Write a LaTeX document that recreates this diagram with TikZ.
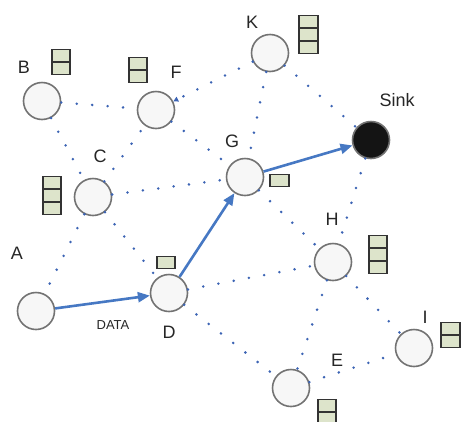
\documentclass[tikz,border=0pt]{standalone}
\usepackage{fontspec}
\setmainfont{Liberation Sans}
\usetikzlibrary{arrows.meta}
\definecolor{dotblue}{RGB}{60,100,180}
\definecolor{arrblue}{RGB}{70,120,195}
\definecolor{battfill}{RGB}{221,228,203}
\definecolor{ringgray}{RGB}{115,115,115}
\tikzset{
 sensor/.style={circle,draw=ringgray,line width=1.6pt,fill=black!3,minimum size=37pt,inner sep=0pt},
 sinknode/.style={sensor,fill=black!92},
 lbl/.style={font=\fontsize{18}{18}\selectfont,inner sep=0pt,text=black!85},
 link/.style={dotblue,line width=2.8pt,line cap=round,dash pattern=on 0pt off 15.5pt},
 flow/.style={arrblue,line width=2.6pt,-{Triangle[length=12pt,width=10pt]}},
 cell/.style={draw=black!80,fill=battfill,line width=1.7pt,minimum width=18.5pt,minimum height=11.8pt,inner sep=0pt},
}
\begin{document}
\begin{tikzpicture}[x=1pt,y=-1pt]
\useasboundingbox (0,0) rectangle (462,421);
% sensor nodes
\node[sensor] (A) at (36,311) {};
\node[sensor] (B) at (42,101) {};
\node[sensor] (C) at (93,197) {};
\node[sensor] (D) at (169,293) {};
\node[sensor] (E) at (291,388) {};
\node[sensor] (F) at (156,110) {};
\node[sensor] (G) at (245,177) {};
\node[sensor] (H) at (333,262) {};
\node[sensor] (I) at (414,348) {};
\node[sensor] (K) at (270,53) {};
\node[sinknode] (S) at (371,140) {};
% labels
\node[lbl] (lA) at (17,253) {A};
\node[lbl] (lB) at (24,67) {B};
\node[lbl] (lC) at (100,156) {C};
\node[lbl] (lD) at (169,332) {D};
\node[lbl] (lE) at (337,360) {E};
\node[lbl] (lF) at (176,72) {F};
\node[lbl] (lG) at (232,141) {G};
\node[lbl] (lH) at (332,219) {H};
\node[lbl] (lI) at (425,317) {I};
\node[lbl] (lK) at (252,22) {K};
\node[lbl] (lS) at (397,100) {Sink};
\node[font=\fontsize{13}{13}\selectfont,inner sep=0pt,text=black!85] (data) at (113,325) {DATA};
% dotted links
\draw[link] (B) -- (F);
\draw[link] (B) -- (C);
\draw[link] (C) -- (F);
\draw[link,-{Triangle[length=5pt,width=5pt]}] (K) -- (F);
\draw[link] (F) -- (G);
\draw[link] (C) -- (G);
\draw[link] (C) -- (A);
\draw[link] (C) -- (D);
\draw[link] (K) -- (G);
\draw[link] (K) -- (S);
\draw[link] (S) -- (H);
\draw[link] (G) -- (H);
\draw[link] (D) -- (H);
\draw[link] (D) -- (E);
\draw[link] (H) -- (E);
\draw[link] (H) -- (I);
\draw[link] (E) -- (I);
% data flow
\draw[flow] (A) -- (D);
\draw[flow] (D) -- (G);
\draw[flow] (G) -- (S);
% batteries
\node[cell] (bB1) at (61,55.5) {};
\node[cell] (bB2) at (61,68.5) {};
\node[cell] (bF1) at (138,63.5) {};
\node[cell] (bF2) at (138,76.5) {};
\node[cell] (bC1) at (52,182.5) {};
\node[cell] (bC2) at (52,195.5) {};
\node[cell] (bC3) at (52,208.5) {};
\node[cell] (bK1) at (308.5,21.5) {};
\node[cell] (bK2) at (308.5,34.5) {};
\node[cell] (bK3) at (308.5,47.5) {};
\node[cell] (bG1) at (279.5,180.5) {};
\node[cell] (bD1) at (166,262.5) {};
\node[cell] (bH1) at (378,241.5) {};
\node[cell] (bH2) at (378,254.5) {};
\node[cell] (bH3) at (378,267.5) {};
\node[cell] (bI1) at (450.5,328.5) {};
\node[cell] (bI2) at (450.5,341.5) {};
\node[cell] (bE1) at (327,405.5) {};
\node[cell] (bE2) at (327,418.5) {};
\end{tikzpicture}
\end{document}
